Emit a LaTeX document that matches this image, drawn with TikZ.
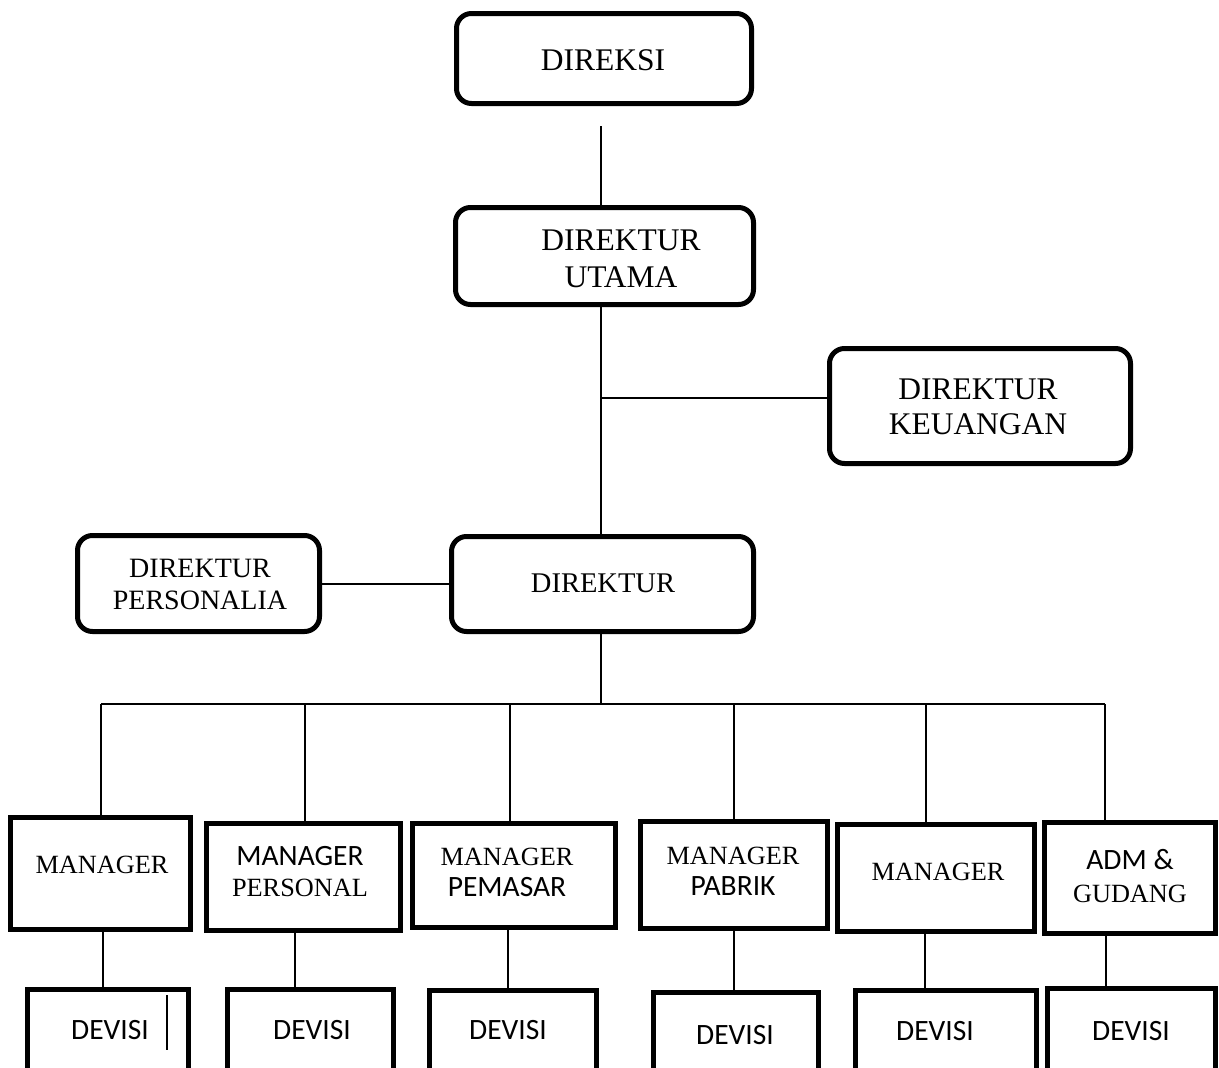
\documentclass[tikz,border=0pt]{standalone}
\usepackage{fontspec}
\setmainfont{Liberation Serif}
\newfontfamily\calfont{Carlito}
\begin{document}
\begin{tikzpicture}[x=1pt,y=-1pt,
  rbox/.style={draw, line width=5pt, rounded corners=15pt, inner sep=0pt},
  sbox/.style={draw, line width=5pt, inner sep=0pt},
  conn/.style={line width=2pt},
  tbig/.style={font=\fontsize{31.5}{37}\selectfont, align=center, inner sep=0pt},
  tmid/.style={font=\fontsize{28.5}{32}\selectfont, align=center, inner sep=0pt},
  tsm/.style={font=\fontsize{26.3}{31}\selectfont, align=center, inner sep=0pt},
  tcal/.style={font=\fontsize{29.5}{31}\selectfont\calfont, align=center, inner sep=0pt}
]
\useasboundingbox (0,0) rectangle (1219,1068);
\clip (0,0) rectangle (1219,1068);
\fill[white] (0,0) rectangle (1219,1068);

% top level boxes
\node[rbox, minimum width=295, minimum height=90] (direksi) at (604,58.5) {};
\node[rbox, minimum width=298, minimum height=97] (du) at (604.5,256) {};
\node[rbox, minimum width=301, minimum height=115] (dk) at (980,406) {};
\node[rbox, minimum width=242, minimum height=96] (dp) at (198.5,583.5) {};
\node[rbox, minimum width=302, minimum height=95] (dir) at (602.5,584) {};

% manager boxes
\node[sbox, minimum width=180, minimum height=112] (m1) at (100.5,873.5) {};
\node[sbox, minimum width=194, minimum height=107] (m2) at (303,877) {};
\node[sbox, minimum width=203, minimum height=104] (m3) at (513.5,875.5) {};
\node[sbox, minimum width=187, minimum height=107] (m4) at (733.5,875) {};
\node[sbox, minimum width=197, minimum height=107] (m5) at (935.5,878) {};
\node[sbox, minimum width=171, minimum height=111] (m6) at (1130,878) {};

% devisi boxes (cut by the lower edge)
\node[sbox, minimum width=161, minimum height=128] (d1) at (107.5,1053.5) {};
\node[sbox, minimum width=166, minimum height=128] (d2) at (310,1053.5) {};
\node[sbox, minimum width=167, minimum height=127] (d3) at (512.5,1054) {};
\node[sbox, minimum width=165, minimum height=125] (d4) at (735.5,1055) {};
\node[sbox, minimum width=181, minimum height=127] (d5) at (945.5,1054) {};
\node[sbox, minimum width=168, minimum height=129] (d6) at (1131,1053) {};

% texts
\node[tbig] (tdireksi) at (603,60) {DIREKSI};
\node[tbig] (tdu) at (621,259) {DIREKTUR\\UTAMA};
\node[tbig, font=\fontsize{31.5}{35}\selectfont] (tdk) at (978,407) {DIREKTUR\\KEUANGAN};
\node[tmid, font=\fontsize{28}{32}\selectfont] (tdp) at (200,584) {DIREKTUR\\PERSONALIA};
\node[tmid] (tdir) at (603,583) {DIREKTUR};

\node[tsm] (tm1) at (102,865) {MANAGER};
\node[tsm] (tm2) at (300,872) {{\calfont\fontsize{29.5}{31}\selectfont MANAGER}\\PERSONAL};
\node[tsm] (tm3) at (507,872) {MANAGER\\{\calfont\fontsize{29.5}{31}\selectfont PEMASAR}};
\node[tsm] (tm4) at (733,871) {MANAGER\\{\calfont\fontsize{29.5}{31}\selectfont PABRIK}};
\node[tsm] (tm5) at (938,872) {MANAGER};
\node[tsm, font=\fontsize{26.3}{33}\selectfont] (tm6) at (1130,876) {{\calfont\fontsize{29.5}{33}\selectfont ADM \&}\\GUDANG};

\node[tcal] (td1) at (110,1030) {DEVISI};
\node[tcal] (td2) at (312,1030) {DEVISI};
\node[tcal] (td3) at (508,1030) {DEVISI};
\node[tcal] (td4) at (735,1035) {DEVISI};
\node[tcal] (td5) at (935,1031) {DEVISI};
\node[tcal] (td6) at (1131,1031) {DEVISI};

% connectors
\coordinate (g1) at (601,126);
\draw[conn] (g1) -- (g1 |- du.north);
\draw[conn] (du.south -| g1) -- (dir.north -| g1);
\coordinate (kb) at (601,398);
\draw[conn] (kb) -- (kb -| dk.west);
\draw[conn] (dp.east) -- (dp.east -| dir.west);

\coordinate (bus) at (601,704);
\draw[conn] (dir.south -| g1) -- (bus);
\coordinate (t1) at (101,704);
\coordinate (t2) at (305,704);
\coordinate (t3) at (510,704);
\coordinate (t4) at (734,704);
\coordinate (t5) at (926,704);
\coordinate (t6) at (1105,704);
\draw[conn] (t1) -- (t6);
\draw[conn] (t1) -- (t1 |- m1.north);
\draw[conn] (t2) -- (t2 |- m2.north);
\draw[conn] (t3) -- (t3 |- m3.north);
\draw[conn] (t4) -- (t4 |- m4.north);
\draw[conn] (t5) -- (t5 |- m5.north);
\draw[conn] (t6) -- (t6 |- m6.north);

\coordinate (v1) at (103,960);
\coordinate (v2) at (295,960);
\coordinate (v3) at (508,960);
\coordinate (v4) at (734,960);
\coordinate (v5) at (925,960);
\coordinate (v6) at (1106,960);
\draw[conn] (v1 |- m1.south) -- (v1 |- d1.north);
\draw[conn] (v2 |- m2.south) -- (v2 |- d2.north);
\draw[conn] (v3 |- m3.south) -- (v3 |- d3.north);
\draw[conn] (v4 |- m4.south) -- (v4 |- d4.north);
\draw[conn] (v5 |- m5.south) -- (v5 |- d5.north);
\draw[conn] (v6 |- m6.south) -- (v6 |- d6.north);

% stray mark inside the first DEVISI box
\coordinate (s1) at (167,995);
\coordinate (s2) at (167,1050);
\draw[conn] (s1) -- (s2);
\end{tikzpicture}
\end{document}
